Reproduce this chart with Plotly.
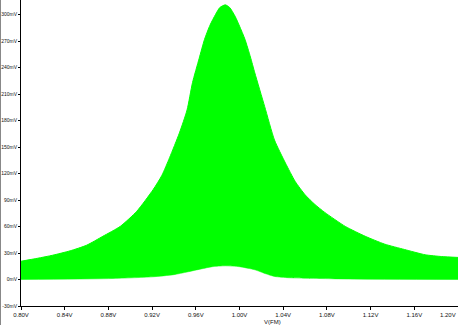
import plotly.graph_objects as go

# Envelope of the V(FM) trace (volts on x, millivolts on y)
upper_x = [0.800, 0.815, 0.829, 0.845, 0.860, 0.875, 0.891, 0.906, 0.921, 0.929, 0.936,
           0.945, 0.952, 0.957, 0.963, 0.968, 0.973, 0.978, 0.982, 0.987, 0.991,
           0.996, 1.000, 1.005, 1.010, 1.014, 1.023, 1.032, 1.042, 1.051, 1.060,
           1.069, 1.078, 1.097, 1.115, 1.133, 1.151, 1.170, 1.185, 1.200]
upper_mv = [20.7, 24.0, 27.5, 32.5, 38.8, 49.0, 60.3, 77.3, 101.9, 118, 138,
            166, 192, 223, 250, 272, 288, 300, 308, 311, 308,
            298, 287, 272, 252, 234, 196, 158, 132, 111, 96,
            85, 76, 60, 49, 40, 34, 28, 26, 25]

lower_x = [0.800, 0.880, 0.920, 0.940, 0.952, 0.965, 0.975, 0.987, 1.000, 1.014,
           1.024, 1.032, 1.045, 1.060, 1.100, 1.200]
lower_mv = [0.0, 1.0, 3.0, 5.5, 8.5, 12.0, 14.5, 15.5, 14.5, 11.0,
            6.5, 3.5, 2.0, 1.5, 0.5, 0.0]

x_tick_vals = [0.80, 0.84, 0.88, 0.92, 0.96, 1.00, 1.04, 1.08, 1.12, 1.16, 1.20]
x_tick_text = ["0.80V", "0.84V", "0.88V", "0.92V", "0.96V", "1.00V", "1.04V",
               "1.08V", "1.12V", "1.16V", "1.20V"]
y_tick_vals = [-30, 0, 30, 60, 90, 120, 150, 180, 210, 240, 270, 300]
y_tick_text = ["-30mV", "0mV", "30mV", "60mV", "90mV", "120mV", "150mV", "180mV",
               "210mV", "240mV", "270mV", "300mV"]

GREEN = "#00ff00"

fig = go.Figure()
fig.add_trace(go.Scatter(x=lower_x, y=lower_mv, mode="lines",
                         line=dict(color=GREEN, width=0.5, shape="spline", smoothing=0.6),
                         hoverinfo="skip", showlegend=False))
fig.add_trace(go.Scatter(x=upper_x, y=upper_mv, mode="lines",
                         line=dict(color=GREEN, width=1, shape="spline", smoothing=0.6),
                         fill="tonexty", fillcolor=GREEN,
                         showlegend=False))

font = dict(family="Liberation Sans, Arial, sans-serif", size=6, color="#111111")
yfont = dict(family="Liberation Sans, Arial, sans-serif", size=5, color="#111111")

fig.update_layout(
    width=458, height=325,
    margin=dict(l=21, r=0, t=0, b=19),
    paper_bgcolor="white", plot_bgcolor="white",
    font=font,
    xaxis=dict(range=[0.80, 1.20], tickvals=x_tick_vals, ticktext=x_tick_text,
               showgrid=False, zeroline=False, showline=True, linecolor="black",
               linewidth=1, ticks="outside", ticklen=3, tickcolor="black",
               tickfont=font, automargin=False),
    yaxis=dict(range=[-30, 316.5], tickvals=y_tick_vals, ticktext=y_tick_text,
               showgrid=False, zeroline=False, showline=True, linecolor="black",
               linewidth=1, ticks="outside", ticklen=2, tickcolor="black",
               tickfont=yfont, automargin=False, ticklabeloverflow="allow"),
    annotations=[
        dict(text="V(FM)", xref="paper", yref="paper", x=0.575, y=-0.035,
             xanchor="center", yanchor="top", showarrow=False, font=font),
        # last x tick label at the right edge, kept inside the picture
        dict(text=x_tick_text[-1], xref="x", yref="paper", x=x_tick_vals[-1], y=-0.012,
             xanchor="right", yanchor="top", showarrow=False, font=font),
    ],
    shapes=[dict(type="line", xref="paper", yref="paper", x0=-21/437, x1=-21/437,
                 y0=-19/306, y1=1, layer="below", line=dict(color="#888888", width=2))],
)

fig.write_html("out.html")
